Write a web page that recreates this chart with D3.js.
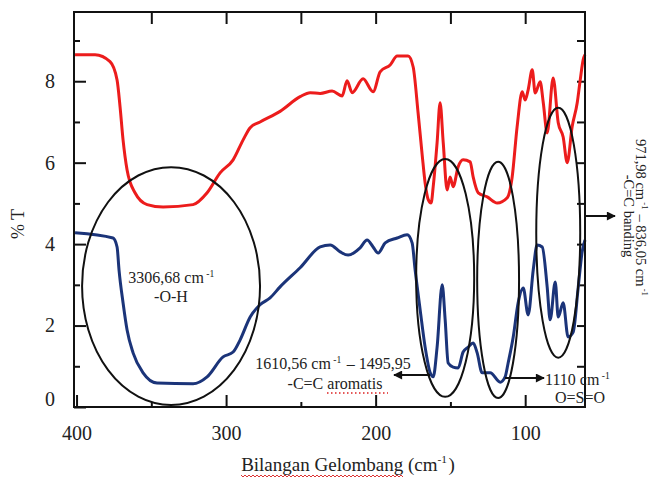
<!DOCTYPE html>
<html>
<head>
<meta charset="utf-8">
<script src="https://cdn.jsdelivr.net/npm/d3@7"></script>
<style>
  body { margin: 0; background: #fff; }
  svg { display: block; font-family: "Liberation Serif", "DejaVu Serif", serif; }
</style>
</head>
<body>
<div id="chart"></div>
<script>
// FTIR spectra, x = wavenumber / 10 (cm-1), y = %T

var redX = [401, 387.6, 377.6, 372.9, 370.9, 368.9, 366.2, 360.9, 352.8, 342.1, 322.1, 312.7, 304.0, 295.3,
  288.6, 283.9, 277.3, 263.9, 250.5, 243.8, 237.1, 229.1, 222.4, 219.1, 215.7, 208.4, 201.7, 197.0,
  190.3, 185.6, 178.3, 174.9, 171.6, 168.9, 166.9, 164.9, 162.9, 161.5, 158.9, 156.9, 154.8, 152.2,
  150.2, 148.2, 144.8, 141.5, 136.8, 134.8, 131.4, 125.4, 118.7, 112.0, 108.7, 105.4, 102.0, 100.0,
  98.0, 95.3, 93.3, 90.0, 87.9, 85.3, 81.3, 77.9, 74.6, 71.9, 68.6, 65.2, 63.2, 61.2, 60];
var redT = [8.65, 8.65, 8.48, 8.03, 7.37, 6.56, 5.82, 5.26, 4.97, 4.91, 4.97, 5.26, 5.75, 6.07,
  6.56, 6.86, 7.00, 7.26, 7.62, 7.72, 7.70, 7.76, 7.64, 8.01, 7.72, 8.06, 7.74, 8.23,
  8.40, 8.62, 8.62, 8.35, 7.22, 6.20, 5.50, 5.10, 5.01, 5.41, 6.49, 7.47, 6.49, 5.33,
  5.65, 5.41, 5.90, 6.07, 6.02, 5.65, 5.26, 5.16, 5.01, 5.14, 5.65, 6.88, 7.74, 7.54,
  7.79, 8.28, 7.71, 7.99, 7.47, 6.73, 8.08, 6.98, 6.63, 6.00, 6.88, 7.47, 8.03, 8.53, 8.65];

var blueX = [401, 375.6, 372.9, 371.6, 368.9, 366.2, 362.2, 355.5, 346.2, 322.1, 312.7, 302.0, 295.3,
  290.6, 283.9, 277.3, 270.6, 263.9, 250.5, 237.1, 230.4, 223.7, 218.4, 210.4, 205.7, 201.7, 198.3,
  193.6, 185.6, 178.9, 175.6, 173.6, 170.2, 166.9, 163.5, 161.5, 158.9, 155.5, 153.5, 151.5, 148.2,
  144.8, 141.5, 138.1, 134.8, 132.1, 128.8, 123.4, 116.7, 113.4, 111.4, 108.0, 104.7, 101.3, 98.0,
  94.6, 92.0, 88.6, 85.3, 83.3, 79.9, 77.9, 74.6, 71.3, 67.9, 64.5, 61.9, 60];
var blueT = [4.28, 4.15, 3.93, 3.37, 2.56, 1.89, 1.33, 0.84, 0.59, 0.57, 0.74, 1.23, 1.35,
  1.65, 2.21, 2.51, 2.68, 2.95, 3.42, 3.93, 3.98, 3.81, 3.73, 3.91, 4.10, 3.93, 3.78,
  4.03, 4.15, 4.23, 4.03, 3.37, 2.38, 1.47, 0.84, 0.74, 1.47, 3.00, 2.14, 1.08, 0.98,
  0.96, 1.35, 1.47, 1.57, 1.33, 0.84, 0.84, 0.61, 0.74, 1.08, 1.72, 2.56, 2.92, 2.26,
  3.37, 3.98, 3.93, 2.95, 2.14, 3.07, 2.21, 2.56, 1.72, 1.84, 2.95, 3.81, 4.10];

var xMajorTicks = [400, 300, 200, 100];
var xMinorTicks = [350, 250, 150];
var xTopTicks = [350, 300, 250, 200, 150, 100];
var yMajorTicks = [0, 2, 4, 6, 8];
var yMinorTicks = [1, 3, 5, 7, 9];
var yRightTicks = [1, 2, 3, 4, 5, 6, 7, 8, 9];

// ellipses around the bands: centre (x, %T), radii in data units
var bandCx = [336.8, 153.5, 118.1, 77.9];
var bandCy = [2.97, 3.17, 3.12, 4.28];
var bandRx = [59.5, 19.4, 14.0, 14.7];
var bandRy = [2.92, 2.92, 2.90, 3.07];

var svgWidth = 650;
var svgHeight = 477;
var margin = { top: 12, right: 65, bottom: 70, left: 74 };
var width = svgWidth - margin.left - margin.right;
var height = svgHeight - margin.top - margin.bottom;

var svg = d3.select("#chart").append("svg")
  .attr("width", svgWidth)
  .attr("height", svgHeight);

var defs = svg.append("defs");
defs.append("marker")
  .attr("id", "arrow")
  .attr("viewBox", "0 0 10 10")
  .attr("refX", 9).attr("refY", 5)
  .attr("markerWidth", 11).attr("markerHeight", 9)
  .attr("markerUnits", "userSpaceOnUse")
  .attr("orient", "auto")
  .append("path").attr("d", "M0,0 L10,5 L0,10 z").attr("fill", "#111");

var g = svg.append("g")
  .attr("transform", `translate(${margin.left}, ${margin.top})`);

var x = d3.scaleLinear().domain([401.7, 60]).range([0, width]);
var y = d3.scaleLinear().domain([0, 9.7]).range([height, 0]);

// axes (ticks point inward)
function styleAxis(sel) {
  sel.select(".domain").remove();
  sel.selectAll("line").attr("stroke", "#111").attr("stroke-width", 2);
  sel.selectAll("text").attr("font-size", 20).attr("fill", "#222")
    .attr("font-family", "Liberation Serif, serif");
}

g.append("g").attr("transform", `translate(0, ${height})`)
  .call(d3.axisBottom(x).tickValues(xMajorTicks).tickSize(-12).tickPadding(19).tickFormat(d3.format("d")))
  .call(styleAxis);
g.append("g").attr("transform", `translate(0, ${height})`)
  .call(d3.axisBottom(x).tickValues(xMinorTicks).tickSize(-5).tickFormat(""))
  .call(styleAxis);
g.append("g")
  .call(d3.axisTop(x).tickValues(xTopTicks).tickSize(-12).tickFormat(""))
  .call(styleAxis);

var yAxisG = g.append("g")
  .call(d3.axisLeft(y).tickValues(yMajorTicks).tickSize(-12).tickPadding(19).tickFormat(d3.format("d")))
  .call(styleAxis);
yAxisG.selectAll(".tick").filter(d => d === 0).select("text").attr("dy", "-0.1em");
g.append("g")
  .call(d3.axisLeft(y).tickValues(yMinorTicks).tickSize(-6).tickFormat(""))
  .call(styleAxis);
g.append("g").attr("transform", `translate(${width}, 0)`)
  .call(d3.axisRight(y).tickValues(yRightTicks).tickSize(-8).tickFormat(""))
  .call(styleAxis);

// spectra
var line = d3.line()
  .x(d => x(d[0]))
  .y(d => y(d[1]))
  .curve(d3.curveMonotoneX);

g.append("path")
  .datum(d3.zip(redX, redT))
  .attr("fill", "none")
  .attr("stroke", "#ec1c1c")
  .attr("stroke-width", 3)
  .attr("stroke-linejoin", "round")
  .attr("d", line);

g.append("path")
  .datum(d3.zip(blueX, blueT))
  .attr("fill", "none")
  .attr("stroke", "#1b3479")
  .attr("stroke-width", 3)
  .attr("stroke-linejoin", "round")
  .attr("d", line);

// frame
g.append("rect")
  .attr("width", width).attr("height", height)
  .attr("fill", "none").attr("stroke", "#111").attr("stroke-width", 2);

// band ellipses
g.selectAll(".band")
  .data(d3.range(bandCx.length))
  .enter()
  .append("ellipse")
  .attr("class", "band")
  .attr("cx", i => x(bandCx[i]))
  .attr("cy", i => y(bandCy[i]))
  .attr("rx", i => Math.abs(x(bandCx[i] + bandRx[i]) - x(bandCx[i])))
  .attr("ry", i => Math.abs(y(bandCy[i] + bandRy[i]) - y(bandCy[i])))
  .attr("fill", "none")
  .attr("stroke", "#111")
  .attr("stroke-width", 2);

// annotation text helper: main text + superscript parts
function label(parent, xPos, yPos, parts, size, anchor) {
  var t = parent.append("text")
    .attr("x", xPos).attr("y", yPos)
    .attr("font-size", size)
    .attr("fill", "#222")
    .attr("text-anchor", anchor || "middle");
  parts.forEach(function(p) {
    if (p.sup) {
      t.append("tspan").attr("dy", -size * 0.4).attr("font-size", size * 0.6).text(p.sup);
      t.append("tspan").attr("dy", size * 0.4).text("\u200a");
    } else {
      t.append("tspan").text(p.t);
    }
  });
  return t;
}

// O-H
label(svg, 172, 283, [{ t: "3306,68 cm" }, { sup: " -1" }], 16);
label(svg, 171, 302, [{ t: "-O-H" }], 16);

// aromatic C=C
label(svg, 333, 369, [{ t: "1610,56 cm" }, { sup: " -1" }, { t: " \u2013 1495,95" }], 16);
label(svg, 335, 389, [{ t: "-C=C aromatis" }], 16);
svg.append("line")
  .attr("x1", 327).attr("x2", 388).attr("y1", 393).attr("y2", 393)
  .attr("stroke", "#d22").attr("stroke-width", 1.3).attr("stroke-dasharray", "1.5,2.5");
svg.append("line")
  .attr("x1", 430).attr("x2", 394).attr("y1", 375).attr("y2", 375)
  .attr("stroke", "#111").attr("stroke-width", 2).attr("marker-end", "url(#arrow)");

// S=O
label(svg, 545, 385, [{ t: "1110 cm" }, { sup: " -1" }], 16, "start");
label(svg, 580, 403, [{ t: "O=S=O" }], 16);
svg.append("line")
  .attr("x1", 505).attr("x2", 544).attr("y1", 378).attr("y2", 378)
  .attr("stroke", "#111").attr("stroke-width", 2).attr("marker-end", "url(#arrow)");

// C=C bending (rotated)
var rot1 = svg.append("g").attr("transform", "translate(636, 218) rotate(90)");
label(rot1, 0, 0, [{ t: "971,98 cm" }, { sup: " -1" }, { t: " \u2013 836,05 cm" }, { sup: " -1" }], 14.5);
var rot2 = svg.append("g").attr("transform", "translate(624, 216) rotate(90)");
label(rot2, 0, 0, [{ t: "-C=C banding" }], 14.5);
svg.append("line")
  .attr("x1", 586).attr("x2", 615).attr("y1", 216).attr("y2", 216)
  .attr("stroke", "#111").attr("stroke-width", 2).attr("marker-end", "url(#arrow)");

// axis titles
label(svg, 348, 471, [{ t: "Bilangan Gelombang (cm" }, { sup: "-1" }, { t: ")" }], 19);
var wave = d3.path();
wave.moveTo(241, 475);
for (var k = 241; k < 402; k += 2) {
  wave.lineTo(k + 2, (k % 4 === 1) ? 477 : 475);
}
svg.append("path").attr("d", wave.toString())
  .attr("fill", "none").attr("stroke", "#d33").attr("stroke-width", 1);

svg.append("text")
  .attr("transform", "translate(24, 224) rotate(-90)")
  .attr("text-anchor", "middle")
  .attr("font-size", 18)
  .attr("fill", "#222")
  .text("% T");
</script>
</body>
</html>
